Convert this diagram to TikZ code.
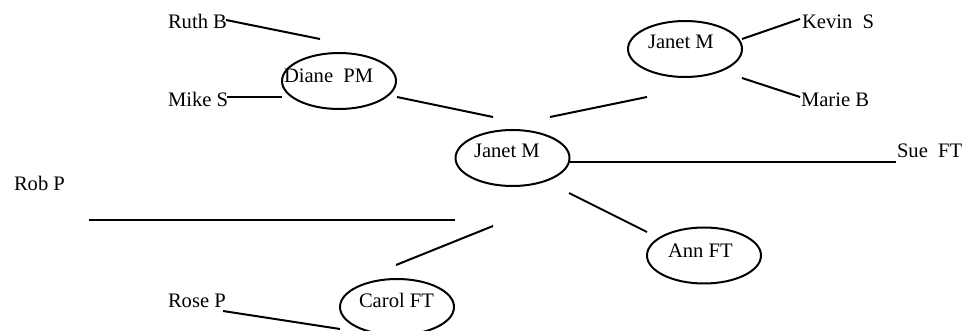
\documentclass[tikz,border=0pt]{standalone}
\usepackage{fontspec}
\setmainfont{Liberation Serif}
\usetikzlibrary{shapes.geometric}
\begin{document}
\begin{tikzpicture}[x=0.5pt, y=-0.5pt, line width=1pt,
	person/.style={draw, ellipse, inner sep=0pt, minimum width=57pt, minimum height=28pt},
	staff/.style={anchor=base west, inner sep=0pt, font=\fontsize{10.3}{12}\selectfont}]
	\useasboundingbox (0,0) rectangle (969,331);
	\node[person] (diane) at (339,81) {};
	\node[person] (janet) at (512.5,158) {};
	\node[person] (janettop) at (685,49) {};
	\node[person] (ann) at (704,255.5) {};
	\node[person] (carol) at (397,307) {};
	\node[staff] (dianeT) at (283,83) {Diane\ \ PM};
	\node[staff] (janetT) at (473,158) {Janet M};
	\node[staff] (janettopT) at (647,49) {Janet M};
	\node[staff] (annT) at (667,257) {Ann FT};
	\node[staff] (carolT) at (358,307) {Carol FT};
	\node[staff] (ruth) at (167,29) {Ruth B};
	\node[staff] (mike) at (167,107) {Mike S};
	\node[staff] (kevin) at (801,29) {Kevin\ \ S};
	\node[staff] (marie) at (800,107) {Marie B};
	\node[staff] (sue) at (896,158) {Sue\ \ FT};
	\node[staff] (rob) at (13,191) {Rob P};
	\node[staff] (rose) at (167,307) {Rose P};
	\coordinate (ruthA) at (226,20);
	\coordinate (ruthB) at (320,39);
	\coordinate (mikeA) at (227,97);
	\coordinate (mikeB) at (282,97);
	\coordinate (dianeA) at (397,97);
	\coordinate (dianeB) at (493,117);
	\coordinate (topA) at (550,117);
	\coordinate (topB) at (647,97);
	\coordinate (kevinA) at (742,39);
	\coordinate (kevinB) at (800,19);
	\coordinate (marieA) at (742,78);
	\coordinate (marieB) at (800,97);
	\coordinate (sueA) at (570,162);
	\coordinate (sueB) at (896,162);
	\coordinate (robA) at (89,220);
	\coordinate (robB) at (455,220);
	\coordinate (carolA) at (493,226);
	\coordinate (carolB) at (396,265);
	\coordinate (roseA) at (223,311);
	\coordinate (roseB) at (340,329);
	\coordinate (annA) at (569,193);
	\coordinate (annB) at (647,232);
	\draw (ruthA) -- (ruthB);
	\draw (mikeA) -- (mikeB);
	\draw (dianeA) -- (dianeB);
	\draw (topA) -- (topB);
	\draw (kevinA) -- (kevinB);
	\draw (marieA) -- (marieB);
	\draw (sueA) -- (sueB);
	\draw (robA) -- (robB);
	\draw (carolA) -- (carolB);
	\draw (roseA) -- (roseB);
	\draw (annA) -- (annB);
\end{tikzpicture}
\end{document}
